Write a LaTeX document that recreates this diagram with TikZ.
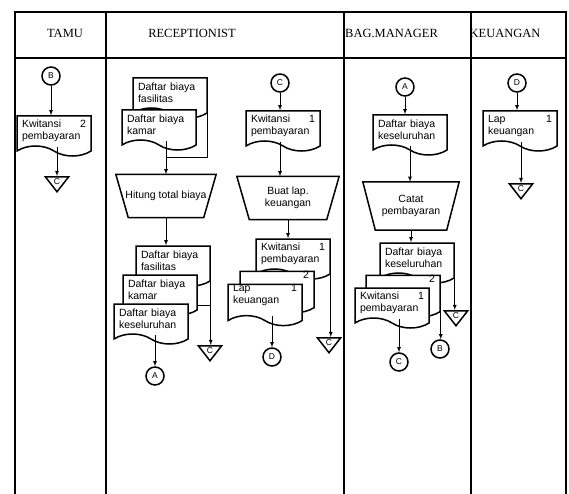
\documentclass[tikz,border=0pt]{standalone}
\usepackage{fontspec}
\setmainfont{Liberation Serif}
\newfontfamily\arial{Liberation Sans}
\usetikzlibrary{shapes,positioning,arrows,calc}

\begin{document}
\begin{tikzpicture}[x=1pt,y=-1pt,
		frame/.style={
		  line width=1.8pt
		  },
		doc/.style={
		  tape,
		  draw,
		  fill=white,
		  line width=1.5pt,
		  tape bend top=none,
		  tape bend bottom=out and in,
		  tape bend height=10pt,
		  minimum width=74pt,
		  minimum height=40pt,
		  text width=64pt,
		  align=left,
		  inner sep=0pt,
		  font=\arial\fontsize{10.5}{12}\selectfont
		  },
		proc/.style={
		  rectangle,
		  minimum width=100pt,
		  minimum height=43pt,
		  inner sep=0pt,
		  align=center,
		  font=\arial\fontsize{10.5}{12.5}\selectfont
		  },
		box/.style={
		  line width=1.5pt,
		  line join=miter
		  },
		con/.style={
		  circle,
		  draw,
		  line width=1.5pt,
		  minimum size=18pt,
		  inner sep=0pt,
		  font=\arial\fontsize{8.5}{8.5}\selectfont
		  },
		off/.style={
		  isosceles triangle,
		  isosceles triangle apex angle=76,
		  shape border rotate=-90,
		  draw,
		  line width=1.5pt,
		  minimum width=15pt,
		  minimum height=15pt,
		  inner sep=1pt,
		  font=\arial\fontsize{8.5}{8.5}\selectfont
		  },
		flow/.style={
		  line width=0.8pt
		  },
		head/.style={
		  font=\fontsize{12.5}{14}\selectfont,
		  inner sep=0pt
		  },
		>=latex
		]
		\useasboundingbox (0,0) rectangle (569,494);
		% lanes
		\draw[frame] (15,12) rectangle (566,58);
		\foreach \x in {15,106,344,471,566}
		  \draw[frame] (\x,12) -- (\x,494);
		\node[head] (hTamu) at (65,33) {TAMU};
		\node[head] (hRec) at (192,33) {RECEPTIONIST};
		\node[head,anchor=west] (hMgr) at (345,33) {BAG.MANAGER};
		\node[head] (hKeu) at (505,33) {KEUANGAN};
		% tamu
		\node[con] (cB1) at (51,76) {B};
		\node[doc] (dKw1) at (54,131) {Kwitansi\hfill 2\\pembayaran};
		\node[off,anchor=north] (tC1) at (57,176) {C};
		% receptionist
		\node[doc] (dFas1) at (170,93) {Daftar biaya\\fasilitas};
		\node[doc] (dKam1) at (159,125) {Daftar biaya\\kamar};
		\node[proc] (pHit) at (166,196) {Hitung total biaya};
		\node[con] (cC1) at (280,83) {C};
		\node[doc] (dKw2) at (283,126) {Kwitansi\hfill 1\\pembayaran};
		\node[proc,minimum width=102pt] (pBuat) at (288,198) {Buat lap.\\keuangan};
		\node[doc] (dFas2) at (173,261) {Daftar biaya\\fasilitas};
		\node[doc] (dKam2) at (160,290) {Daftar biaya\\kamar};
		\node[doc] (dSel1) at (151,319) {Daftar biaya\\keseluruhan};
		\node[off,anchor=north] (tC2) at (210,345) {C};
		\node[con] (cA1) at (155,376) {A};
		\node[doc] (dKw3) at (293,254) {Kwitansi\hfill 1\\pembayaran};
		\node[doc] (dDua1) at (277,287) {\hfill 2\\\mbox{}\\\mbox{}};
		\node[doc] (dLap1) at (265,300) {Lap\hfill 1\hspace{9pt}\\keuangan\\\mbox{}};
		\node[off,anchor=north] (tC3) at (329,337) {C};
		\node[con] (cD1) at (272,357) {D};
		% bag. manager
		\node[con] (cA2) at (405,87) {A};
		\node[doc] (dSel2) at (410,130) {Daftar biaya\\keseluruhan};
		\node[proc,minimum width=96pt,minimum height=48pt] (pCat) at (411,206) {Catat\\pembayaran};
		\node[doc] (dSel3) at (417,258) {Daftar biaya\\keseluruhan};
		\node[doc] (dDua2) at (403,291) {\hfill 2\\\mbox{}\\\mbox{}};
		\node[doc] (dKw4) at (392,303) {Kwitansi\hfill 1\\pembayaran};
		\node[off,anchor=north] (tC4) at (456,310) {C};
		\node[con] (cB2) at (440,349) {B};
		\node[con] (cC2) at (399,362) {C};
		% keuangan
		\node[con] (cD2) at (517,83) {D};
		\node[doc] (dLap2) at (520,126) {Lap\hfill 1\hspace{9pt}\\keuangan};
		\node[off,anchor=north] (tC5) at (521,183) {C};
		% manual operations
		\foreach \p in {pHit,pBuat,pCat}
		  \draw[box] (\p.north west) -- (\p.north east) -- ([xshift=-12.5pt]\p.south east) -- ([xshift=12.5pt]\p.south west) -- cycle;
		% flows
		\draw[flow,->] (cB1) -- (cB1 |- dKw1.north);
		\draw[flow,->] (dKw1.south -| tC1.north) -- (tC1.north);
		\draw[flow,->] (dKam1.south -| pHit.north) -- (pHit.north);
		\coordinate (jHit) at ($(dKam1.south -| pHit.north)!.5!(pHit.north)$);
		\draw[flow] (dFas1.south east) |- (jHit);
		\draw[flow,->] (cC1) -- (cC1 |- dKw2.north);
		\draw[flow,->] (dKw2.south -| cC1) -- (cC1 |- pBuat.north);
		\draw[flow,->] (pHit.south) -- (pHit.south |- dFas2.north);
		\draw[flow,->] (pBuat.south) -- (pBuat.south |- dKw3.north);
		\draw[flow,->] (dFas2.south east) -- (dFas2.south east |- tC2.north);
		\draw[flow] (dKam2.south east) -- (dKam2.south east -| tC2.north);
		\draw[flow,->] (dSel1.south -| cA1) -- (cA1);
		\draw[flow,->] (dKw3.south east) -- (dKw3.south east |- tC3.north);
		\draw[flow] ($(dDua1.east)!.6!(dDua1.south east)$) -- ($(dDua1.east)!.6!(dDua1.south east)$ -| tC3.north);
		\draw[flow,->] (dLap1.south -| cD1) -- (cD1);
		\draw[flow,->] (cA2) -- (cA2 |- dSel2.north);
		\draw[flow,->] (dSel2.south) -- (dSel2.south |- pCat.north);
		\draw[flow,->] (pCat.south) -- (pCat.south |- dSel3.north);
		\draw[flow,->] (dSel3.south east) -- (dSel3.south east |- tC4.north);
		\draw[flow,->] (dDua2.south east) -- (dDua2.south east |- cB2.north);
		\draw[flow,->] (dKw4.south -| cC2) -- (cC2);
		\draw[flow,->] (cD2) -- (cD2 |- dLap2.north);
		\draw[flow,->] (dLap2.south -| tC5.north) -- (tC5.north);
	\end{tikzpicture}
\end{document}
